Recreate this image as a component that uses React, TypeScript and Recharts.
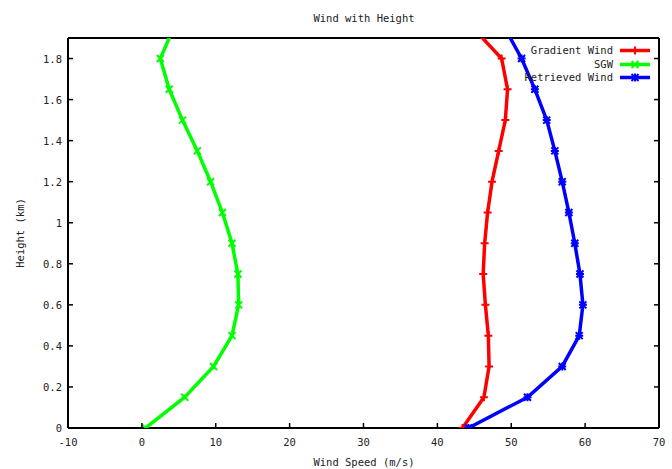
import React from 'react';
import { ScatterChart, Scatter, XAxis, YAxis, Legend, Label } from 'recharts';

const HEIGHTS = [0, 0.15, 0.3, 0.45, 0.6, 0.75, 0.9, 1.05, 1.2, 1.35, 1.5, 1.65, 1.8, 1.95];
const GRADIENT = [43.4, 46.3, 47.0, 46.9, 46.5, 46.2, 46.4, 46.8, 47.4, 48.3, 49.2, 49.5, 48.7, 44.8];
const SGW = [0.5, 5.8, 9.7, 12.2, 13.1, 13.0, 12.2, 10.9, 9.3, 7.5, 5.5, 3.7, 2.5, 4.3];
const RETRIEVED = [44.2, 52.2, 56.9, 59.2, 59.7, 59.3, 58.6, 57.8, 56.9, 55.9, 54.8, 53.2, 51.4, 49.1];

const X_TICKS = [-10, 0, 10, 20, 30, 40, 50, 60, 70];
const Y_TICKS = [0, 0.2, 0.4, 0.6, 0.8, 1, 1.2, 1.4, 1.6, 1.8];
const Y_TICK_LABELS = ['0', '0.2', '0.4', '0.6', '0.8', '1', '1.2', '1.4', '1.6', '1.8'];

const SERIES = [
  { name: 'Gradient Wind', color: '#ff0000', values: GRADIENT, marker: 'plus' },
  { name: 'SGW', color: '#00ff00', values: SGW, marker: 'cross' },
  { name: 'Retrieved Wind', color: '#0000ff', values: RETRIEVED, marker: 'star' },
];

const FONT = '"DejaVu Sans Mono", monospace';
const FS = 10.5;
const TXT = '#222';
const TICK = 5;

function markerPath(kind: string, cx: number, cy: number) {
  const p = `M${cx - 4},${cy}H${cx + 4}M${cx},${cy - 4}V${cy + 4}`;
  const c = `M${cx - 3.5},${cy - 3.5}L${cx + 3.5},${cy + 3.5}M${cx - 3.5},${cy + 3.5}L${cx + 3.5},${cy - 3.5}`;
  if (kind === 'plus') return p;
  if (kind === 'cross') return c;
  return p + c;
}

const makeShape = (kind: string, color: string) => (props: any) => {
  const { cx, cy } = props;
  if (cx == null || cy == null) return <g />;
  return <path d={markerPath(kind, cx, cy)} stroke={color} strokeWidth={2} fill="none" />;
};

const BottomTick = (props: any) => {
  const { x, y, payload } = props;
  return (
    <g>
      <line x1={x} y1={y} x2={x} y2={y - TICK} stroke="#000" strokeWidth={1.5} />
      <text x={x} y={y + 14} textAnchor="middle" dominantBaseline="central" fontFamily={FONT} fontSize={FS} fill={TXT}>
        {payload.value}
      </text>
    </g>
  );
};

const TopTick = (props: any) => {
  const { x, y } = props;
  return <line x1={x} y1={y} x2={x} y2={y + TICK} stroke="#000" strokeWidth={1.5} />;
};

const LeftTick = (props: any) => {
  const { x, y, payload, index } = props;
  const idx = Y_TICKS.indexOf(payload.value);
  return (
    <g>
      <line x1={x} y1={y} x2={x + TICK} y2={y} stroke="#000" strokeWidth={1.5} />
      <text x={x - 6} y={y} textAnchor="end" dominantBaseline="central" fontFamily={FONT} fontSize={FS} fill={TXT}>
        {idx >= 0 ? Y_TICK_LABELS[idx] : Y_TICK_LABELS[index]}
      </text>
    </g>
  );
};

const RightTick = (props: any) => {
  const { x, y } = props;
  return <line x1={x} y1={y} x2={x - TICK} y2={y} stroke="#000" strokeWidth={1.5} />;
};

const LegendContent = () => (
  <div style={{ fontFamily: FONT, fontSize: FS, color: TXT }}>
    {SERIES.map((s) => (
      <div key={s.name} style={{ display: 'flex', justifyContent: 'flex-end', alignItems: 'center', height: 13.5, paddingRight: 9 }}>
        <span style={{ whiteSpace: 'pre', lineHeight: '13.5px' }}>{s.name}</span>
        <svg width={30} height={13} style={{ marginLeft: 7, display: 'block' }}>
          <line x1={0} y1={6.5} x2={30} y2={6.5} stroke={s.color} strokeWidth={3.5} />
          <path d={markerPath(s.marker, 15, 6.5)} stroke={s.color} strokeWidth={2} fill="none" />
        </svg>
      </div>
    ))}
  </div>
);

export default function App() {
  return (
    <div style={{ position: 'absolute', left: 0, top: 0, width: 672, height: 469, background: '#fff' }}>
      <ScatterChart width={672} height={469} margin={{ top: 0, right: 0, bottom: 0, left: 8 }}>
        <XAxis
          xAxisId="bottom"
          dataKey="x"
          type="number"
          domain={[-10, 70]}
          ticks={X_TICKS}
          interval={0}
          height={41}
          tickSize={0}
          tickMargin={0}
          tickLine={false}
          axisLine={{ stroke: '#000', strokeWidth: 2 }}
          tick={<BottomTick />}
        >
          <Label
            content={() => (
              <text x={364} y={462} textAnchor="middle" dominantBaseline="central" fontFamily={FONT} fontSize={FS} fill={TXT}>
                Wind Speed (m/s)
              </text>
            )}
          />
        </XAxis>
        <XAxis
          xAxisId="top"
          orientation="top"
          type="number"
          domain={[-10, 70]}
          ticks={X_TICKS}
          interval={0}
          height={38}
          tickSize={0}
          tickMargin={0}
          tickLine={false}
          axisLine={{ stroke: '#000', strokeWidth: 2 }}
          tick={<TopTick />}
        >
          <Label
            content={() => (
              <text x={364} y={18} textAnchor="middle" dominantBaseline="central" fontFamily={FONT} fontSize={FS} fill={TXT}>
                Wind with Height
              </text>
            )}
          />
        </XAxis>
        <YAxis
          yAxisId="left"
          dataKey="y"
          type="number"
          domain={[0, 1.9]}
          allowDataOverflow
          ticks={Y_TICKS}
          interval={0}
          width={60}
          tickSize={0}
          tickMargin={0}
          tickLine={false}
          axisLine={{ stroke: '#000', strokeWidth: 2 }}
          tick={<LeftTick />}
        >
          <Label
            content={() => (
              <text x={20} y={233} transform="rotate(-90 20 233)" textAnchor="middle" dominantBaseline="central" fontFamily={FONT} fontSize={FS} fill={TXT}>
                Height (km)
              </text>
            )}
          />
        </YAxis>
        <YAxis
          yAxisId="right"
          orientation="right"
          type="number"
          domain={[0, 1.9]}
          allowDataOverflow
          ticks={Y_TICKS}
          interval={0}
          width={13}
          tickSize={0}
          tickMargin={0}
          tickLine={false}
          axisLine={{ stroke: '#000', strokeWidth: 2 }}
          tick={<RightTick />}
        />
        <Legend
          verticalAlign="middle"
          align="center"
          layout="horizontal"
          content={<LegendContent />}
          wrapperStyle={{ position: 'absolute', top: 44, left: 400, width: 259, right: 'auto', bottom: 'auto' }}
        />
        {SERIES.map((s) => (
          <Scatter
            key={s.name}
            name={s.name}
            xAxisId="bottom"
            yAxisId="left"
            data={HEIGHTS.map((h, i) => ({ x: s.values[i], y: h }))}
            line={{ stroke: s.color, strokeWidth: 3.5 }}
            lineType="joint"
            shape={makeShape(s.marker, s.color)}
            fill={s.color}
            isAnimationActive={false}
          />
        ))}
      </ScatterChart>
    </div>
  );
}
